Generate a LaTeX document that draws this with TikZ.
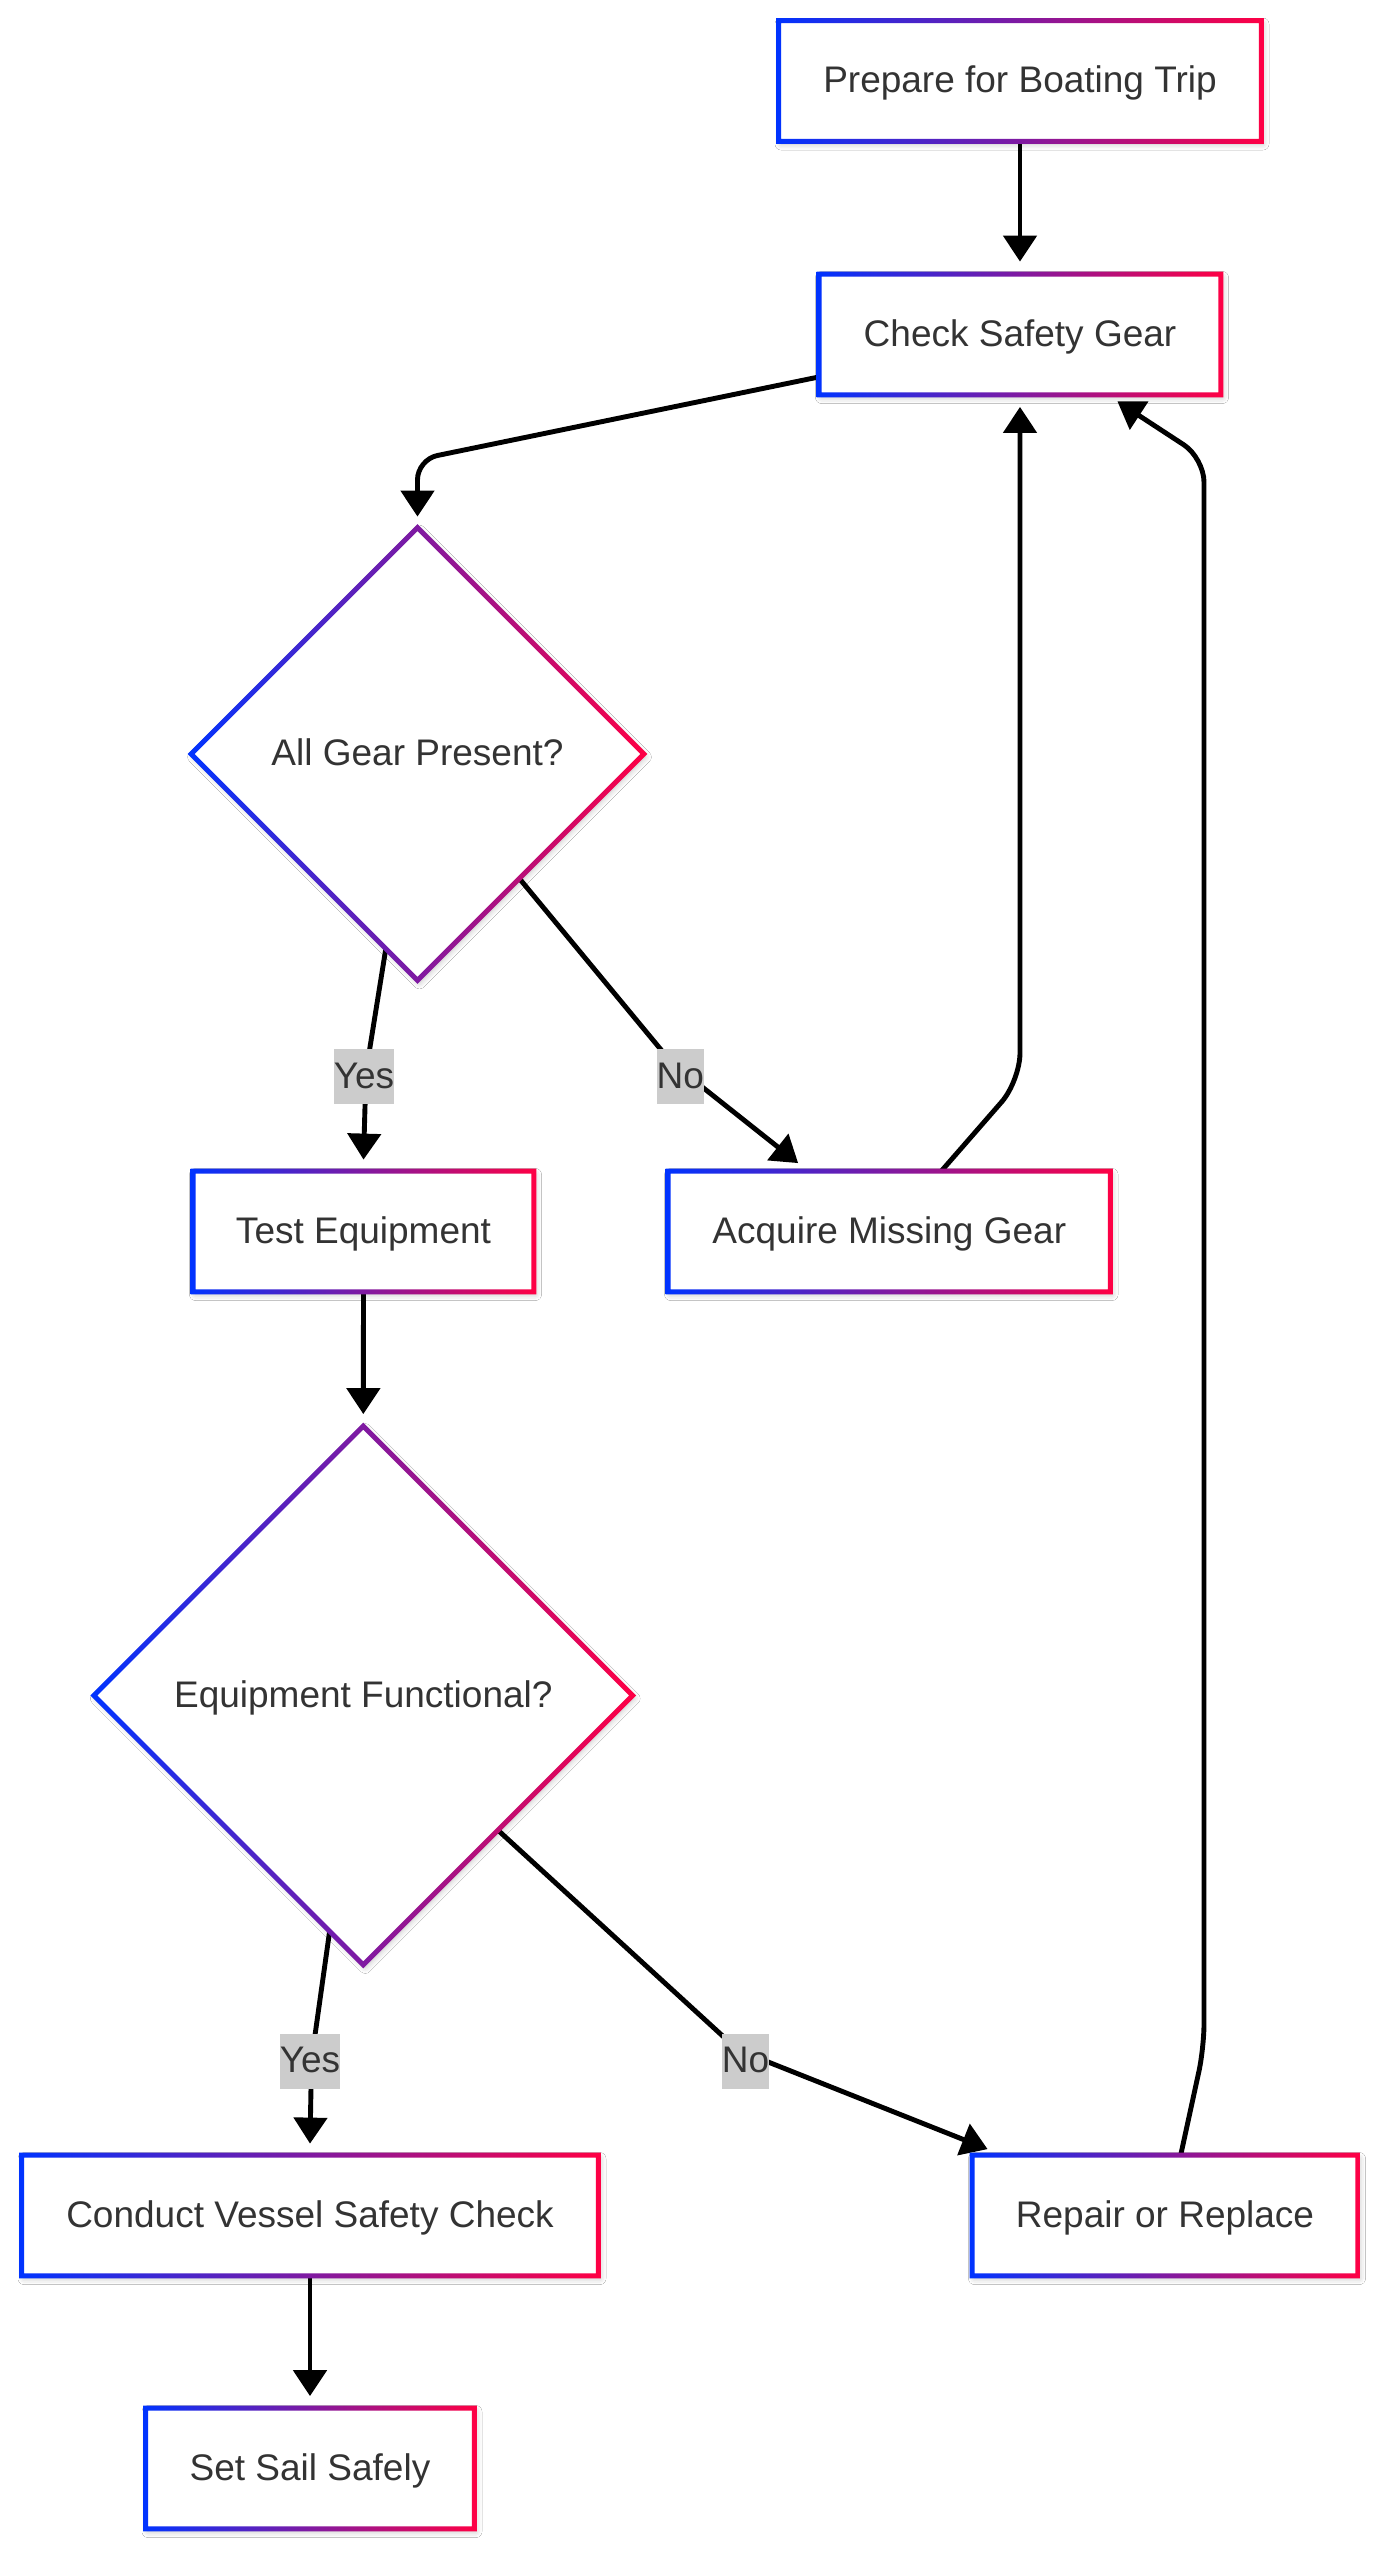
\documentclass[tikz,border=0pt]{standalone}
\usepackage{fontspec}
\setmainfont{Liberation Sans}
\usetikzlibrary{arrows.meta,shapes.geometric,shadows.blur,calc}
\definecolor{txt}{HTML}{333333}
\definecolor{gblue}{HTML}{0033FF}
\definecolor{gred}{HTML}{FF0044}
\definecolor{lblbg}{HTML}{CCCCCC}
\newcommand{\nodefont}{\fontsize{18.5pt}{22pt}\selectfont}
\newcommand{\ringbox}[1]{%
  \shade[ring] ($(#1.north west)+(-2.5,-2.5)$) rectangle ($(#1.south east)+(2.5,2.5)$)
               ($(#1.north west)+(2.5,2.5)$) rectangle ($(#1.south east)+(-2.5,-2.5)$);}
\newcommand{\ringdia}[1]{%
  \shade[ring] ($(#1.north)+(0,-3.5)$) -- ($(#1.east)+(3.5,0)$) -- ($(#1.south)+(0,3.5)$) -- ($(#1.west)+(-3.5,0)$) -- cycle
               ($(#1.north)+(0,3.5)$) -- ($(#1.east)+(-3.5,0)$) -- ($(#1.south)+(0,-3.5)$) -- ($(#1.west)+(3.5,0)$) -- cycle;}
\begin{document}
\begin{tikzpicture}[x=0.5pt, y=-0.5pt,
  softshadow/.style={blur shadow={shadow xshift=1pt, shadow yshift=-1.5pt, shadow blur radius=3pt, shadow opacity=25}},
  box/.style={rectangle, fill=white, draw=none, minimum height=60pt, inner sep=0pt,
    font=\nodefont, text=txt, text height=13.2pt, text depth=1.5pt, softshadow},
  dia/.style={diamond, aspect=1, fill=white, draw=none, inner sep=0pt,
    font=\nodefont, text=txt, text height=13.2pt, text depth=1.5pt, softshadow},
  ring/.style={left color=gblue, right color=gred, even odd rule},
  conn/.style={draw=black, line width=2.45pt, -{Triangle[length=13pt,width=16.5pt]}},
  lbl/.style={fill=lblbg, inner xsep=0pt, inner ysep=0pt, minimum height=27.5pt,
    font=\nodefont, text=txt, text height=13.2pt, text depth=1.5pt}]
\fill[white] (0,0) rectangle (1385,2560);
\useasboundingbox (0,0) rectangle (1385,2560);

% nodes
\node[box, minimum width=241pt]   (prep)    at (1020,81)      {Prepare for Boating Trip};
\node[box, minimum width=200.5pt] (check)   at (1020,334.5)   {Check Safety Gear};
\node[dia, minimum size=226pt]    (d1)      at (417.5,754)    {All Gear Present?};
\node[box, minimum width=170pt]   (test)    at (363.5,1231.5) {Test Equipment};
\node[box, minimum width=220.75pt](acq)     at (889.3,1231.5) {Acquire Missing Gear};
\node[dia, minimum size=269pt]    (d2)      at (363.3,1695.5) {Equipment Functional?};
\node[box, minimum width=288pt]   (conduct) at (310,2215.5)   {Conduct Vessel Safety Check};
\node[box, minimum width=192.5pt] (repair)  at (1165,2215.5)  {Repair or Replace};
\node[box, minimum width=164pt]   (sail)    at (310,2468.5)   {Set Sail Safely};

% connectors
\draw[conn] (prep.south) -- ($(check.north)+(0,-12.5)$);
\draw[conn, rounded corners=10pt] ($(check.south west)+(0,-18)$) -- ($(d1.north)+(0,-68)$) -- ($(d1.north)+(0,-11)$);
\draw[conn] ($(d1.south)!0.14!(d1.west)$) -- (366,1072) -- ($(test.north)+(0,-11.5)$);
\draw[conn, rounded corners=8pt] ($(d1.south)!0.45!(d1.east)$) -- (672,1063) -- ($(acq.north west)+(130,-8)$);
\draw[conn, rounded corners=14pt] ($(acq.north)+(52,0)$) -- ($(check.south)+(0,686)$) -- ($(check.south)+(0,12)$);
\draw[conn] (test.south) -- ($(d2.north)+(0,-12)$);
\draw[conn] ($(d2.south)!0.125!(d2.west)$) -- (311.5,2060) -- ($(conduct.north)+(0,-11.5)$);
\draw[conn, rounded corners=8pt] ($(d2.south)!0.5!(d2.east)$) -- (738,2050) -- ($(repair.north west)+(15.5,-6)$);
\draw[conn, rounded corners=12pt] ($(repair.north)+(15.7,0)$) -- (1204,2048) -- (1204,458) -- ($(check.south east)+(-103.5,6.5)$);
\draw[conn] (conduct.south) -- ($(sail.north)+(0,-12)$);

% gradient borders
\ringbox{prep}
\ringbox{check}
\ringdia{d1}
\ringbox{test}
\ringbox{acq}
\ringdia{d2}
\ringbox{conduct}
\ringbox{repair}
\ringbox{sail}

% edge labels
\node[lbl] (y1) at (364,1076.5) {Yes};
\node[lbl] (n1) at (680.3,1076.5) {No};
\node[lbl] (y2) at (310,2061) {Yes};
\node[lbl] (n2) at (745.5,2061) {No};
\end{tikzpicture}
\end{document}
